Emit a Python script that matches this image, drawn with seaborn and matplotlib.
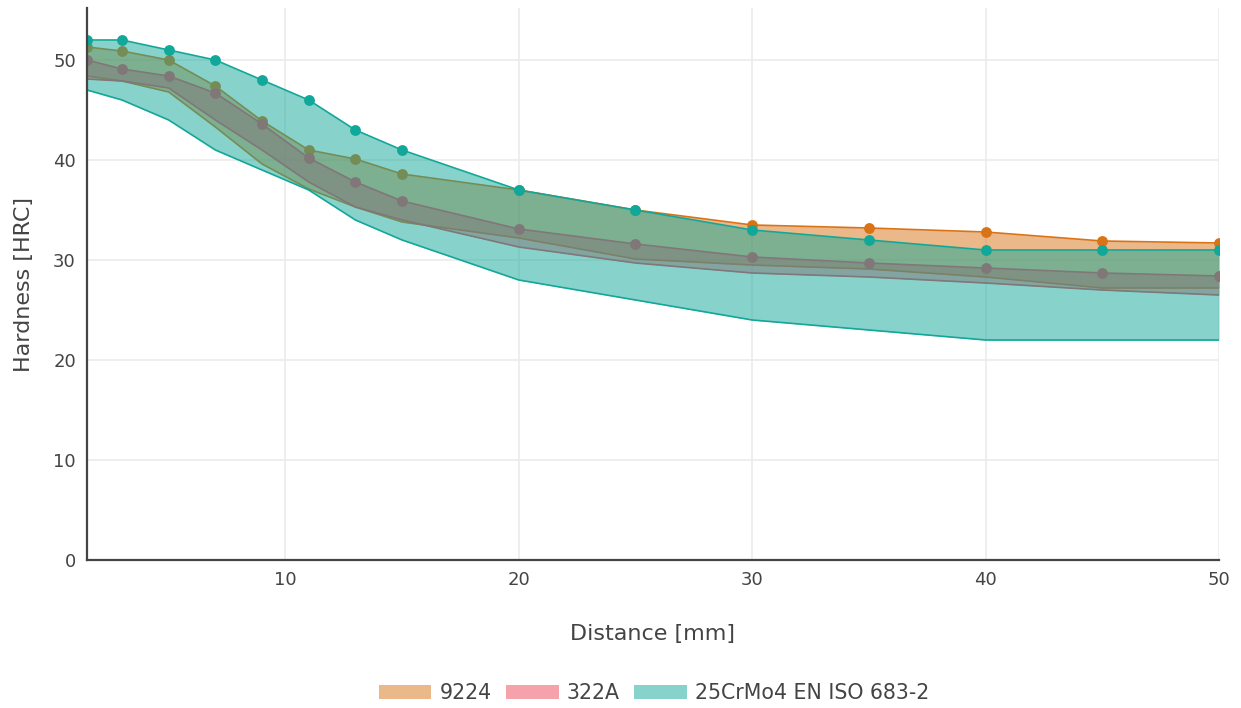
import matplotlib
matplotlib.use("Agg")
import matplotlib.pyplot as plt
from matplotlib.patches import Patch
import seaborn as sns
import numpy as np

# ---- data ----
distance = [1.5, 3, 5, 7, 9, 11, 13, 15, 20, 25, 30, 35, 40, 45, 50]

s9224_upper = [51.3, 50.9, 50.0, 47.4, 43.9, 41.0, 40.1, 38.6, 37.0, 35.0, 33.5, 33.2, 32.8, 31.9, 31.7]
s9224_lower = [48.4, 47.9, 46.8, 43.3, 39.6, 37.1, 35.3, 33.8, 32.2, 30.1, 29.5, 29.1, 28.3, 27.2, 27.2]

s322a_upper = [50.0, 49.1, 48.4, 46.7, 43.6, 40.2, 37.8, 35.9, 33.1, 31.6, 30.3, 29.7, 29.2, 28.7, 28.4]
s322a_lower = [48.1, 47.9, 47.2, 44.0, 41.0, 37.8, 35.3, 34.0, 31.3, 29.7, 28.7, 28.3, 27.7, 27.0, 26.5]

s25crmo4_upper = [52, 52, 51, 50, 48, 46, 43, 41, 37, 35, 33, 32, 31, 31, 31]
s25crmo4_lower = [47, 46, 44, 41, 39, 37, 34, 32, 28, 26, 24, 23, 22, 22, 22]

series_names = ["9224", "322A", "25CrMo4 EN ISO 683-2"]
series_colors = ["#d97316", "#ef4757", "#11a799"]

x_ticks = [10, 20, 30, 40, 50]
y_ticks = [0, 10, 20, 30, 40, 50]

# ---- style ----
sns.set_style("white")
plt.rcParams["font.family"] = ["DejaVu Sans"]
text_color = "#444444"

fig = plt.figure(figsize=(12.41, 7.08), dpi=100)
ax = fig.add_axes([87 / 1241, 1 - 560 / 708, (1219 - 87) / 1241, (560 - 8) / 708])

bands = [
    (s9224_lower, s9224_upper),
    (s322a_lower, s322a_upper),
    (s25crmo4_lower, s25crmo4_upper),
]

x = np.array(distance, dtype=float)
for i, ((lo, hi), col) in enumerate(zip(bands, series_colors)):
    z = 3 + 3 * i
    ax.fill_between(x, lo, hi, color=col, alpha=0.5, linewidth=0, zorder=z)
    sns.lineplot(x=x, y=lo, ax=ax, color=col, linewidth=1.2, sort=False,
                 estimator=None, zorder=z + 1, legend=False)
    sns.lineplot(x=x, y=hi, ax=ax, color=col, linewidth=1.2, sort=False,
                 estimator=None, marker="o", markersize=7.8, markeredgewidth=0,
                 zorder=z + 2, legend=False)

ax.set_xlim(1.5, 50)
ax.set_ylim(0, 55.2)
ax.set_xticks(x_ticks)
ax.set_yticks(y_ticks)
ax.grid(True, color="#ebebeb", linewidth=1.2)
ax.set_axisbelow(True)

for s in ["top", "right"]:
    ax.spines[s].set_visible(False)
for s in ["left", "bottom"]:
    ax.spines[s].set_color("#444444")
    ax.spines[s].set_linewidth(1.6)
    ax.spines[s].set_zorder(20)

ax.tick_params(axis="both", length=0, labelsize=13, colors=text_color, pad=8)
ax.set_xlabel("Distance [mm]", fontsize=16, color=text_color, labelpad=25)
ax.set_ylabel("Hardness [HRC]", fontsize=16, color=text_color, labelpad=14)

handles = [Patch(facecolor=c, alpha=0.5, edgecolor="none") for c in series_colors]
fig.legend(handles, series_names, loc="center", bbox_to_anchor=(0.527, 0.021),
           ncol=3, frameon=False, fontsize=14.8, handlelength=2.55,
           handleheight=0.65, handletextpad=0.4, columnspacing=0.7,
           labelcolor=text_color)

fig.savefig("out.png", dpi=100)
